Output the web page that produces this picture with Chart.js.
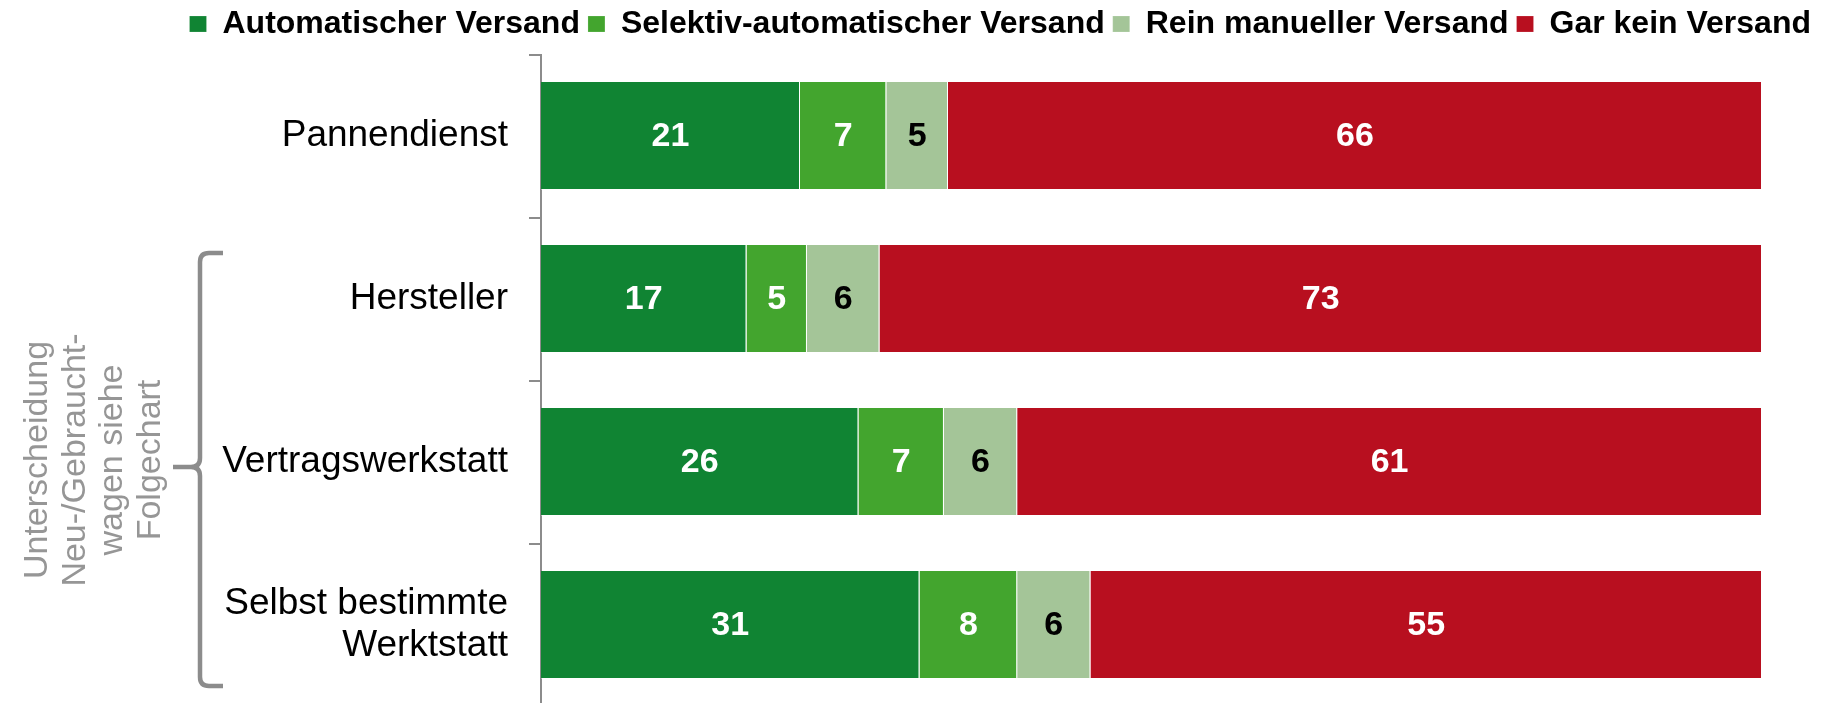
<!DOCTYPE html>
<html lang="de">
<head>
<meta charset="utf-8">
<title>Versand</title>
<script src="https://cdn.jsdelivr.net/npm/chart.js@4.4.1/dist/chart.umd.min.js"></script>
<style>
  html, body { margin: 0; padding: 0; background: #fff; overflow: hidden; }
  #wrap { position: relative; width: 1843px; height: 710px; }
</style>
</head>
<body>
<div id="wrap"><canvas id="chart"></canvas></div>
<script>
const FONT = "'Liberation Sans', Arial, sans-serif";

const categories = ["Pannendienst", "Hersteller", "Vertragswerkstatt", ["Selbst bestimmte", "Werktstatt"]];
const seriesNames = ["Automatischer Versand", "Selektiv-automatischer Versand", "Rein manueller Versand", "Gar kein Versand"];
const automatisch = [21, 17, 26, 31];
const selektiv = [7, 5, 7, 8];
const manuell = [5, 6, 6, 6];
const keinVersand = [66, 73, 61, 55];
const noteLines = ["Unterscheidung", "Neu-/Gebraucht-", "wagen siehe", "Folgechart"];

const COLORS = ["#108433", "#43a52e", "#a4c598", "#b80f1f"];
const LABEL_COLORS = ["#fff", "#fff", "#000", "#fff"];
const AXIS_GREY = "#8c8c8c";

const series = [automatisch, selektiv, manuell, keinVersand];
// every row is stretched to 100 %, the labels keep the surveyed numbers
const rowTotals = categories.map((_, i) => series.reduce((s, arr) => s + arr[i], 0));
const share = (arr) => arr.map((v, i) => v / rowTotals[i] * 100);

// value labels centred in each segment
const barLabels = {
  id: "barLabels",
  afterDatasetsDraw(chart) {
    const ctx = chart.ctx;
    ctx.save();
    ctx.font = `bold 34px ${FONT}`;
    ctx.textAlign = "center";
    ctx.textBaseline = "middle";
    chart.data.datasets.forEach((ds, d) => {
      chart.getDatasetMeta(d).data.forEach((bar, i) => {
        ctx.fillStyle = LABEL_COLORS[d];
        ctx.fillText(String(series[d][i]), (bar.x + bar.base) / 2, bar.y + 1);
      });
    });
    ctx.restore();
  }
};

// curly bracket around the workshop rows plus the rotated note
const bracketNote = {
  id: "bracketNote",
  afterDraw(chart) {
    const ctx = chart.ctx;
    const y = chart.scales.y;
    const top = y.getPixelForValue(1) - 46;
    const mid = y.getPixelForValue(2) + 5;
    const bottom = y.getPixelForValue(3) + 61;
    const x = 200, arm = 223, nub = 173, r = 9;

    ctx.save();
    ctx.strokeStyle = AXIS_GREY;
    ctx.lineWidth = 4.5;
    ctx.lineCap = "butt";
    ctx.beginPath();
    ctx.moveTo(arm, top);
    ctx.lineTo(x + r, top);
    ctx.quadraticCurveTo(x, top, x, top + r);
    ctx.lineTo(x, mid - r);
    ctx.quadraticCurveTo(x, mid, x - r, mid);
    ctx.lineTo(nub, mid);
    ctx.moveTo(x - r, mid);
    ctx.quadraticCurveTo(x, mid, x, mid + r);
    ctx.lineTo(x, bottom - r);
    ctx.quadraticCurveTo(x, bottom, x + r, bottom);
    ctx.lineTo(arm, bottom);
    ctx.stroke();

    ctx.translate(94, y.getPixelForValue(2) - 2);
    ctx.rotate(-Math.PI / 2);
    ctx.fillStyle = "#969696";
    ctx.font = `34px ${FONT}`;
    ctx.textAlign = "center";
    ctx.textBaseline = "middle";
    const lh = 37.5;
    noteLines.forEach((line, i) => {
      ctx.fillText(line, 0, (i - (noteLines.length - 1) / 2) * lh);
    });
    ctx.restore();
  }
};

const datasets = series.map((arr, d) => ({
  label: seriesNames[d],
  data: share(arr),
  backgroundColor: COLORS[d],
  borderColor: "rgba(255,255,255,0.35)",
  borderWidth: { top: 0, left: 0, right: 1, bottom: 1 },
  borderSkipped: false,
  categoryPercentage: 1,
  barPercentage: 0.6626,
}));

new Chart(document.getElementById("chart"), {
  type: "bar",
  data: { labels: categories, datasets },
  plugins: [barLabels, bracketNote],
  options: {
    indexAxis: "y",
    responsive: true,
    maintainAspectRatio: false,
    animation: false,
    layout: { padding: { top: 0, left: 0, right: 24, bottom: 3.5 } },
    plugins: {
      tooltip: { enabled: false },
      legend: {
        position: "top",
        align: "end",
        labels: {
          color: "#000",
          font: { family: FONT, size: 32, weight: "bold" },
          boxWidth: 17,
          boxHeight: 16,
          padding: 8,
        },
      },
    },
    scales: {
      x: {
        type: "linear",
        position: "top",
        stacked: true,
        min: 0,
        max: 100,
        grid: { display: false },
        ticks: { display: false },
        border: { display: false },
        afterFit: (s) => { s.height = 4.5; },
      },
      y: {
        stacked: true,
        grid: {
          drawOnChartArea: false,
          drawTicks: true,
          tickLength: 12,
          color: AXIS_GREY,
          lineWidth: 2,
        },
        border: { display: true, color: AXIS_GREY, width: 2 },
        ticks: {
          color: "#000",
          padding: 21,
          font: { family: FONT, size: 37, lineHeight: 1.15 },
        },
        afterFit: (s) => {
          s.width = 541;
          // bands run edge to edge, no room reserved for label overhang
          s.paddingTop = 0;
          s.paddingBottom = 0;
        },
      },
      // keeps the plot clear of the right edge
      yRight: {
        type: "linear",
        position: "right",
        grid: { display: false },
        ticks: { display: false },
        border: { display: false },
        afterFit: (s) => { s.width = 57; },
      },
    },
  },
});
</script>
</body>
</html>
